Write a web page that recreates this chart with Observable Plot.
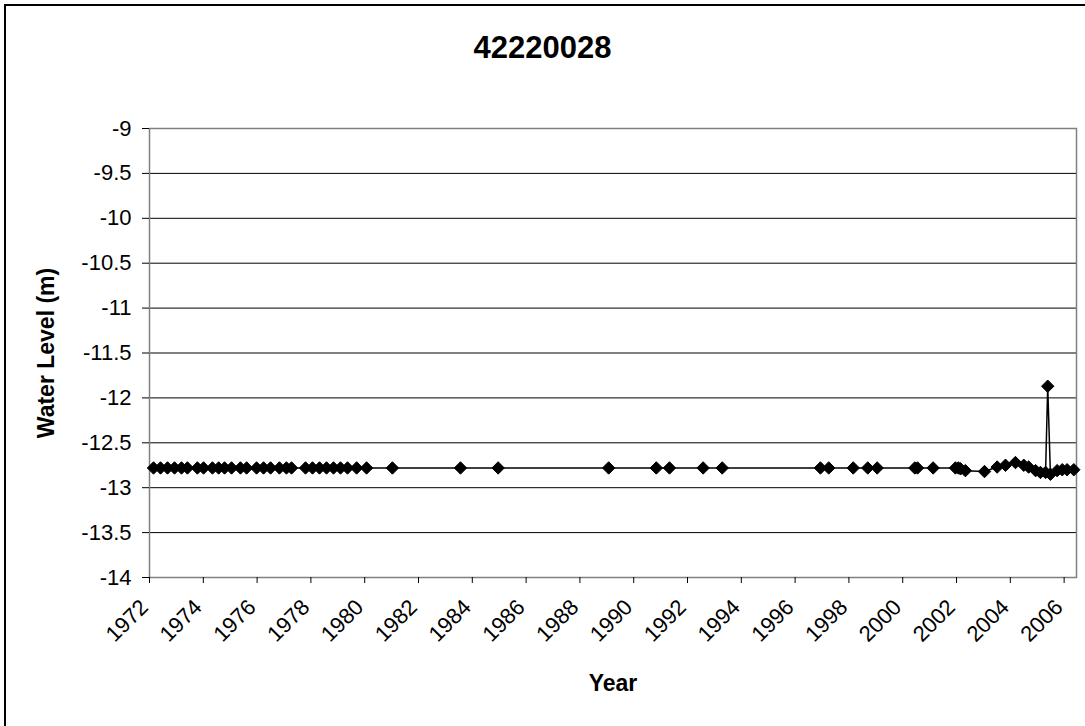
<!DOCTYPE html>
<html>
<head>
<meta charset="utf-8">
<script src="https://cdn.jsdelivr.net/npm/d3@7"></script>
<script src="https://cdn.jsdelivr.net/npm/@observablehq/plot@0.6"></script>
<style>
  html, body { margin: 0; padding: 0; background: #fff; }
  body { width: 1085px; height: 726px; overflow: hidden; position: relative; font-family: "Liberation Sans", Arial, sans-serif; }
  #border { position: absolute; left: 4px; top: 4px; width: 1100px; height: 740px; border: 2px solid #000; box-sizing: border-box; pointer-events: none; }
  #title { position: absolute; left: 0; top: 0; width: 1085px; height: 100px; line-height: 96px; text-align: center; font-weight: bold; font-size: 31px; }
  #chart { position: absolute; left: 0; top: 100px; }
  #chart g[aria-label="y-axis label"] text, #chart g[aria-label="x-axis label"] text { font-weight: bold; font-size: 23px; }
</style>
</head>
<body>
<div id="title">42220028</div>
<div id="chart"></div>
<div id="border"></div>
<script>
const dates = [
  1972.15, 1972.41, 1972.67, 1972.93, 1973.19, 1973.41, 1973.78, 1974.01, 1974.34, 1974.57,
  1974.79, 1975.05, 1975.38, 1975.61, 1975.98, 1976.24, 1976.50, 1976.83, 1977.09, 1977.28,
  1977.80, 1978.06, 1978.32, 1978.58, 1978.84, 1979.10, 1979.36, 1979.70, 1980.07, 1981.03,
  1983.56, 1984.96, 1989.07, 1990.84, 1991.33, 1992.58, 1993.29, 1996.94, 1997.25, 1998.16,
  1998.70, 1999.05, 2000.45, 2000.55, 2001.13, 2001.96, 2002.07, 2002.15, 2002.33, 2003.04,
  2003.51, 2003.82, 2004.19, 2004.50, 2004.68, 2004.94, 2005.12, 2005.31, 2005.39, 2005.49,
  2005.74, 2005.93, 2006.11, 2006.36
];
const levels = [
  -12.78, -12.78, -12.78, -12.78, -12.78, -12.78, -12.78, -12.78, -12.78, -12.78,
  -12.78, -12.78, -12.78, -12.78, -12.78, -12.78, -12.78, -12.78, -12.78, -12.78,
  -12.78, -12.78, -12.78, -12.78, -12.78, -12.78, -12.78, -12.78, -12.78, -12.78,
  -12.78, -12.78, -12.78, -12.78, -12.78, -12.78, -12.78, -12.78, -12.78, -12.78,
  -12.78, -12.78, -12.78, -12.78, -12.78, -12.78, -12.78, -12.79, -12.81, -12.82,
  -12.77, -12.75, -12.72, -12.75, -12.77, -12.81, -12.83, -12.83, -11.87, -12.85,
  -12.81, -12.80, -12.80, -12.80
];
const xTicks = [1972, 1974, 1976, 1978, 1980, 1982, 1984, 1986, 1988, 1990, 1992, 1994, 1996, 1998, 2000, 2002, 2004, 2006];
const yTicks = [-9, -9.5, -10, -10.5, -11, -11.5, -12, -12.5, -13, -13.5, -14];
const gridLines = [-9.5, -10, -10.5, -11, -11.5, -12, -12.5, -13, -13.5, -14];
const xLabel = "Year";
const yLabel = "Water Level (m)";

const data = dates.map((d, i) => ({year: d, level: levels[i]}));

const chart = Plot.plot({
  width: 1085,
  height: 626,
  marginTop: 28,
  marginBottom: 149,
  marginLeft: 149,
  marginRight: 9,
  style: {fontFamily: "'Liberation Sans', Arial, sans-serif", fontSize: "22px", color: "#000", background: "transparent", overflow: "visible"},
  x: {domain: [1972, 2006.46]},
  y: {domain: [-14, -9]},
  marks: [
    Plot.ruleY(gridLines, {stroke: "#000", strokeWidth: 1}),
    Plot.frame({stroke: "#808080", strokeWidth: 1.5}),
    Plot.axisY({ticks: yTicks, tickFormat: d => String(d), tickSize: 7, tickPadding: 11, label: yLabel, labelArrow: false, labelAnchor: "center", labelOffset: 112}),
    Plot.axisX({ticks: xTicks, tickFormat: () => "", tickSize: 6, label: xLabel, labelArrow: false, labelAnchor: "center", labelOffset: 113}),
    Plot.axisX({ticks: xTicks, tickFormat: d => String(d), tickRotate: -45, tickSize: 0, tickPadding: 4, dx: -5, dy: 22, label: null}),
    Plot.line(data, {x: "year", y: "level", stroke: "#000", strokeWidth: 1.5}),
    Plot.dot(data, {x: "year", y: "level", symbol: "diamond2", r: 5.6, fill: "#000", stroke: "#000", strokeWidth: 1})
  ]
});
document.getElementById("chart").appendChild(chart);
</script>
</body>
</html>
